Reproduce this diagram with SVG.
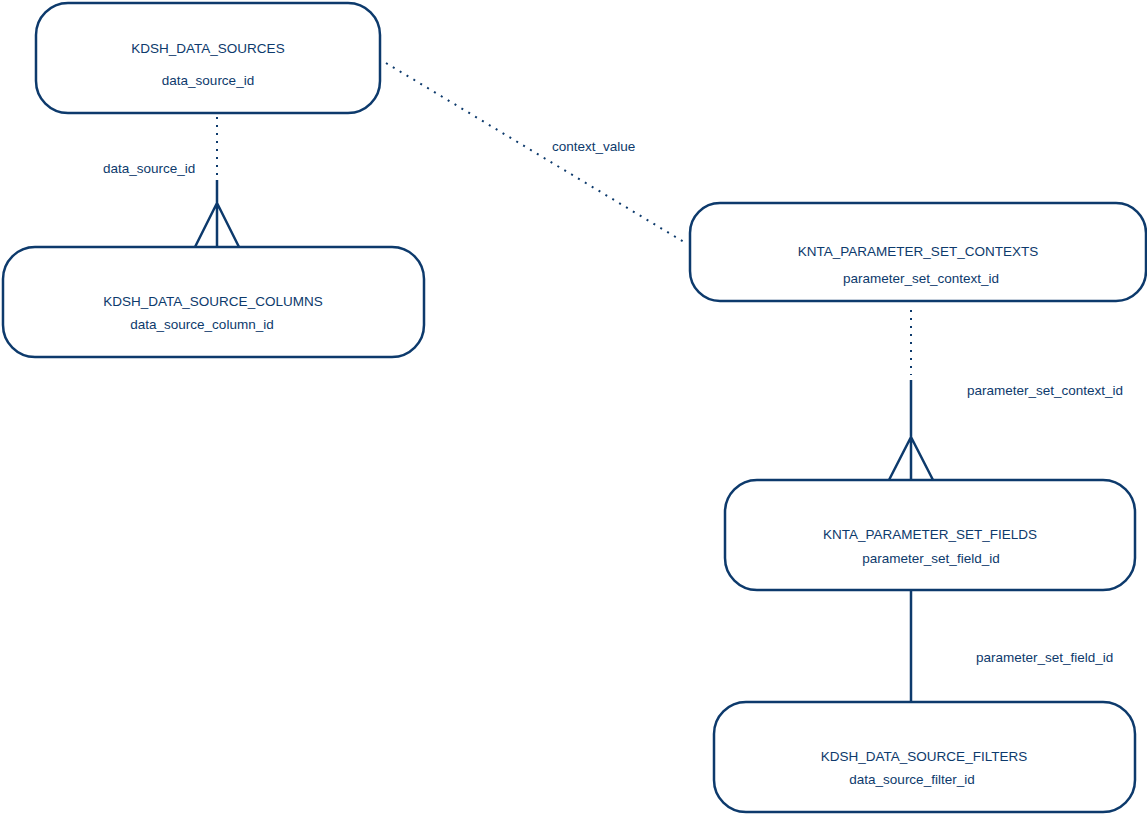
<svg xmlns="http://www.w3.org/2000/svg" width="1147" height="814" viewBox="0 0 1147 814">
<style>
.box{fill:#fff;stroke:#0d3a6c;stroke-width:2.5}
.t{font-family:"Liberation Sans",Arial,sans-serif;font-size:13.5px;fill:#0d3a6c;text-anchor:middle}
.l{font-family:"Liberation Sans",Arial,sans-serif;font-size:13.5px;fill:#0d3a6c}
.dot{stroke:#0d3a6c;stroke-width:2;stroke-dasharray:2 6;fill:none}
.sol{stroke:#0d3a6c;stroke-width:2.5;fill:none}
</style>
<rect width="1147" height="814" fill="#fff"/>
<g id="connectors">
<line class="dot" x1="217" y1="117" x2="217" y2="176"/>
<path class="sol" d="M217 180V247M217 203L195 247M217 203L239 247"/>
<text class="l" x="103" y="173">data_source_id</text>
<line class="dot" x1="386" y1="63" x2="684" y2="242"/>
<text class="l" x="552" y="151">context_value</text>
<line class="dot" x1="911" y1="310" x2="911" y2="375"/>
<path class="sol" d="M911 380V480M911 437L889 480M911 437L933 480"/>
<text class="l" x="967" y="395">parameter_set_context_id</text>
<line class="sol" x1="911" y1="590" x2="911" y2="702"/>
<text class="l" x="976" y="662">parameter_set_field_id</text>
</g>
<g id="KDSH_DATA_SOURCES">
<rect class="box" x="36" y="3" width="344" height="110" rx="32"/>
<text class="t" x="208" y="53">KDSH_DATA_SOURCES</text>
<text class="t" x="208" y="85">data_source_id</text>
</g>
<g id="KDSH_DATA_SOURCE_COLUMNS">
<rect class="box" x="3" y="247" width="421" height="110" rx="32"/>
<text class="t" x="213" y="306">KDSH_DATA_SOURCE_COLUMNS</text>
<text class="t" x="202" y="329">data_source_column_id</text>
</g>
<g id="KNTA_PARAMETER_SET_CONTEXTS">
<rect class="box" x="690" y="203" width="456" height="98" rx="30"/>
<text class="t" x="918" y="256">KNTA_PARAMETER_SET_CONTEXTS</text>
<text class="t" x="921" y="283">parameter_set_context_id</text>
</g>
<g id="KNTA_PARAMETER_SET_FIELDS">
<rect class="box" x="725" y="480" width="410" height="110" rx="32"/>
<text class="t" x="930" y="539">KNTA_PARAMETER_SET_FIELDS</text>
<text class="t" x="931" y="563">parameter_set_field_id</text>
</g>
<g id="KDSH_DATA_SOURCE_FILTERS">
<rect class="box" x="714" y="702" width="421" height="110" rx="32"/>
<text class="t" x="924" y="761">KDSH_DATA_SOURCE_FILTERS</text>
<text class="t" x="912" y="784">data_source_filter_id</text>
</g>
</svg>
